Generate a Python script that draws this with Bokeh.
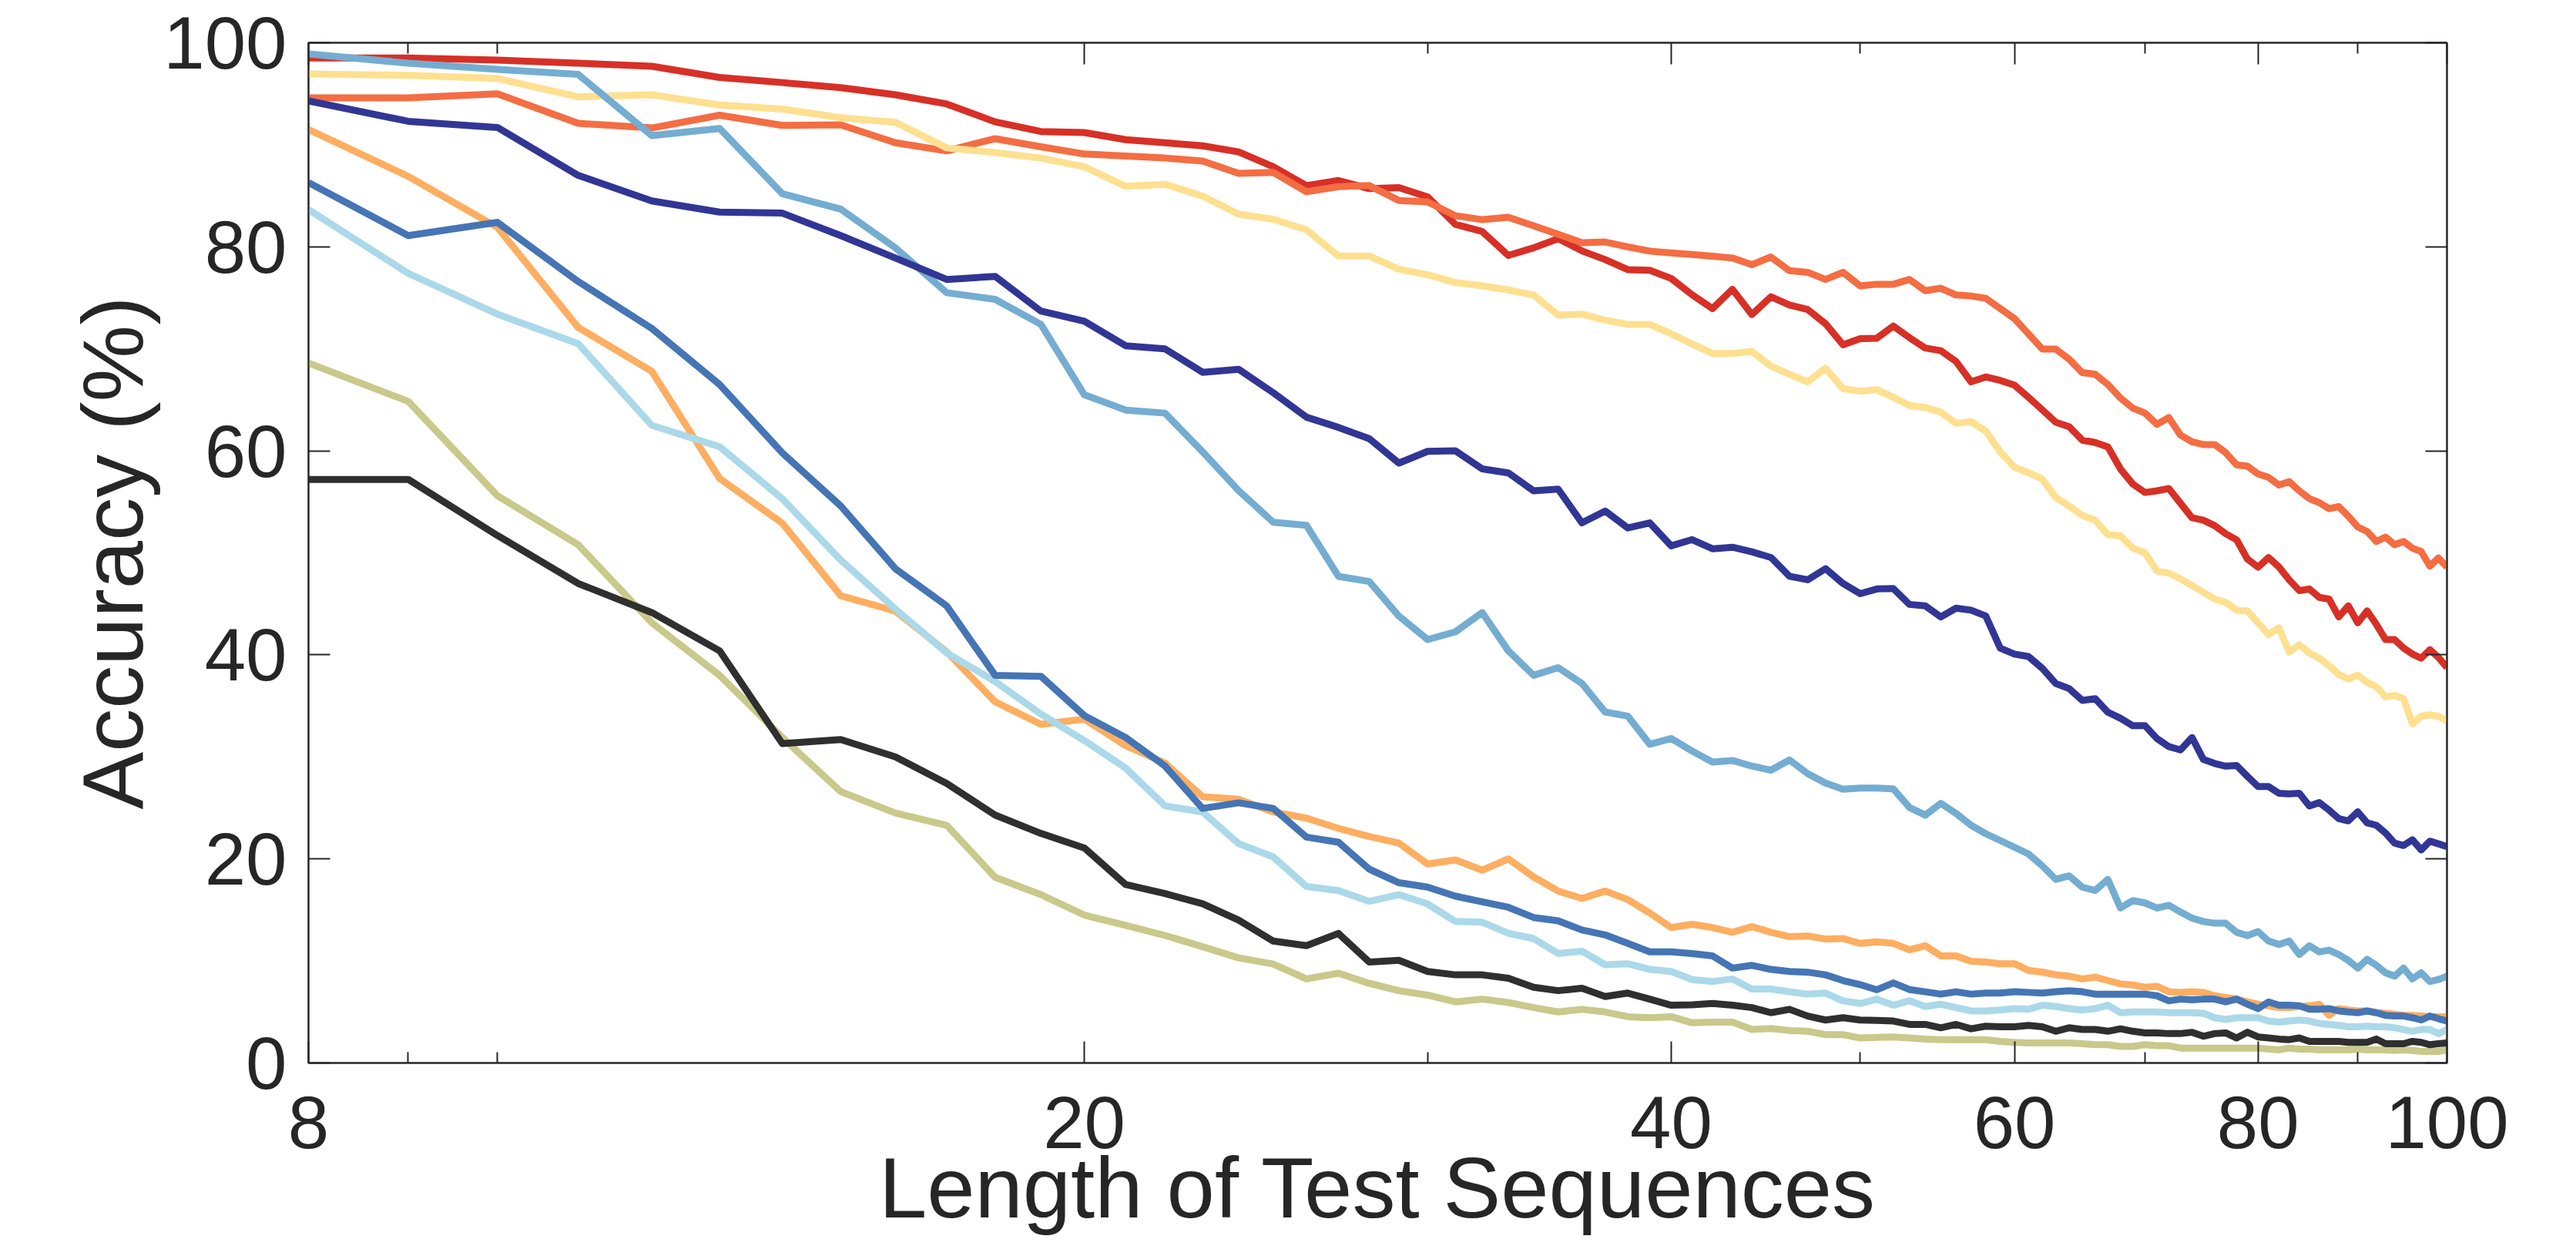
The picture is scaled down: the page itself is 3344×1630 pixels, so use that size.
from bokeh.plotting import figure
from bokeh.models import Range1d, FixedTicker, LogAxis, LinearAxis, PrintfTickFormatter, CustomJSTickFormatter
from bokeh.embed import file_html
from bokeh.resources import INLINE

lengths = list(range(8, 101))

acc_red = [98.5, 98.5, 98.3, 98.0, 97.7, 96.6, 96.1, 95.6, 94.9, 94.0,
           92.25, 91.3, 91.2, 90.5, 90.2, 89.9, 89.3, 87.85, 86.0, 86.5,
           85.7, 85.8, 84.9, 82.2, 81.5, 79.15, 79.9, 80.8, 79.6, 78.75,
           77.76, 77.7, 76.9, 75.3, 73.95, 75.84, 73.36, 75.1, 74.3, 73.85,
           72.46, 70.4, 71.0, 71.04, 72.23, 71.1, 70.08, 69.82, 68.76, 66.77,
           67.24, 66.9, 66.44, 65.25, 64.03, 62.8, 62.37, 61.05, 60.82, 60.39,
           58.23, 56.75, 55.92, 56.08, 56.31, 54.86, 53.44, 53.2, 52.67, 51.88,
           51.28, 49.4, 48.6, 49.54, 48.61, 47.36, 46.3, 46.46, 45.64, 45.47,
           43.72, 44.81, 43.15, 44.31, 42.99, 41.5, 41.5, 40.67, 40.08, 39.68,
           40.51, 39.75, 38.75]

acc_orange_red = [94.6, 94.6, 95.0, 92.1, 91.65, 92.9, 91.9, 91.95, 90.2, 89.4,
                  90.6, 89.8, 89.1, 88.9, 88.7, 88.4, 87.2, 87.3, 85.4, 85.9,
                  86.0, 84.54, 84.4, 83.05, 82.66, 82.9, 82.06, 81.23, 80.4, 80.47,
                  80.0, 79.58, 79.4, 79.25, 79.08, 78.9, 78.25, 79.0, 77.66, 77.5,
                  76.8, 77.5, 76.17, 76.33, 76.33, 76.8, 75.7, 75.94, 75.28, 75.18,
                  74.95, 73.95, 72.96, 71.47, 69.98, 69.98, 68.99, 67.67, 67.5, 66.5,
                  65.18, 64.19, 63.7, 62.6, 63.26, 61.54, 60.88, 60.62, 60.62, 59.82,
                  58.63, 58.5, 57.74, 57.4, 56.65, 56.98, 56.08, 55.32, 54.93, 54.33,
                  54.53, 53.6, 52.54, 52.1, 51.12, 51.55, 50.79, 51.12, 50.46, 50.13,
                  48.7, 49.5, 48.6]

acc_light_orange = [91.5, 86.9, 81.9, 72.1, 67.8, 57.3, 52.9, 45.8, 44.3, 40.3,
                    35.4, 33.2, 33.7, 31.1, 29.4, 26.1, 25.85, 24.6, 24.0, 23.0,
                    22.2, 21.55, 19.5, 19.9, 18.9, 20.0, 18.24, 16.85, 16.12, 16.85,
                    16.02, 14.7, 13.27, 13.6, 13.27, 12.81, 13.37, 12.81, 12.38, 12.45,
                    12.15, 12.2, 11.72, 11.88, 11.72, 11.1, 11.49, 10.49, 10.49, 9.97,
                    9.9, 9.73, 9.73, 9.07, 8.91, 8.64, 8.51, 8.24, 8.41, 8.08,
                    7.75, 7.65, 7.42, 7.52, 6.98, 6.92, 6.98, 6.92, 6.59, 6.42,
                    6.26, 5.99, 5.76, 5.6, 5.43, 5.43, 5.53, 5.6, 5.76, 4.67,
                    5.33, 5.2, 5.1, 5.1, 4.93, 4.87, 4.77, 4.67, 4.67, 4.6,
                    4.54, 4.54, 4.54]

acc_yellow = [96.95, 96.8, 96.5, 94.7, 94.9, 93.9, 93.5, 92.65, 92.2, 89.7,
              89.24, 88.7, 87.85, 85.93, 86.13, 84.97, 83.2, 82.7, 81.66, 79.1,
              79.1, 77.8, 77.26, 76.5, 76.17, 75.77, 75.28, 73.3, 73.4, 72.8,
              72.4, 72.4, 71.47, 70.48, 69.55, 69.55, 69.75, 68.3, 67.5, 66.77,
              68.1, 66.1, 65.85, 66.0, 65.25, 64.45, 64.26, 63.79, 62.7, 62.87,
              61.94, 59.89, 58.4, 57.84, 57.24, 55.42, 54.59, 53.67, 53.2, 51.78,
              51.68, 50.46, 50.0, 48.22, 48.02, 47.46, 46.79, 46.13, 45.47, 45.14,
              44.38, 44.31, 43.15, 41.99, 42.66, 40.28, 41.0, 40.18, 39.68, 38.95,
              38.09, 37.63, 38.02, 37.3, 36.87, 35.87, 36.04, 35.71, 33.23, 33.99,
              34.12, 33.99, 33.56]

acc_light_cyan = [83.65, 77.4, 73.4, 70.5, 62.5, 60.4, 55.3, 49.3, 44.5, 40.2,
                  37.4, 34.2, 31.6, 28.9, 25.2, 24.6, 21.5, 20.2, 17.3, 16.9,
                  15.85, 16.5, 15.59, 13.87, 13.8, 12.71, 12.2, 10.73, 10.96, 9.63,
                  9.73, 9.17, 8.97, 8.18, 7.98, 8.24, 7.25, 7.25, 6.98, 6.75,
                  6.85, 6.09, 5.83, 6.26, 5.66, 6.1, 5.53, 5.76, 5.43, 5.1,
                  5.1, 5.2, 5.33, 5.26, 5.66, 5.53, 5.33, 5.2, 5.33, 5.66,
                  4.93, 5.0, 5.0, 5.0, 4.93, 4.93, 4.93, 4.87, 4.44, 4.27,
                  4.44, 4.44, 4.44, 4.11, 4.01, 4.11, 4.21, 4.11, 3.88, 3.78,
                  3.68, 3.55, 3.55, 3.61, 3.55, 3.55, 3.45, 3.28, 3.11, 3.28,
                  3.28, 2.88, 3.28]

acc_mid_blue = [98.9, 98.0, 97.4, 96.9, 90.9, 91.6, 85.2, 83.7, 79.9, 75.5,
                74.85, 72.4, 65.5, 64.0, 63.7, 59.9, 56.1, 53.0, 52.7, 47.7,
                47.2, 43.8, 41.5, 42.26, 44.15, 40.4, 38.0, 38.75, 37.2, 34.4,
                34.0, 31.24, 31.8, 30.58, 29.5, 29.65, 29.1, 28.7, 29.7, 28.36,
                27.43, 26.84, 26.94, 26.94, 26.87, 25.05, 24.29, 25.45, 24.46, 23.3,
                22.47, 21.81, 21.15, 20.49, 19.33, 18.0, 18.34, 17.24, 16.91, 18.0,
                15.19, 15.92, 15.69, 15.19, 15.46, 14.8, 14.2, 13.87, 13.7, 13.7,
                12.81, 12.48, 12.88, 11.95, 11.62, 11.95, 10.63, 11.49, 10.89, 11.06,
                10.63, 10.06, 9.3, 10.16, 9.57, 8.84, 8.51, 9.3, 8.24, 8.84,
                7.98, 8.18, 8.51]

acc_blue = [86.3, 81.1, 82.4, 76.6, 72.0, 66.5, 59.8, 54.6, 48.45, 44.8,
            38.0, 37.9, 34.05, 31.9, 29.1, 24.95, 25.5, 24.95, 22.14, 21.64,
            19.0, 17.67, 17.24, 16.35, 15.79, 15.26, 14.26, 13.93, 13.04, 12.55,
            11.72, 10.89, 10.89, 10.73, 10.5, 9.3, 9.57, 9.17, 8.97, 8.9,
            8.64, 8.08, 7.68, 7.18, 7.85, 7.2, 6.98, 6.75, 6.98, 6.75,
            6.85, 6.85, 6.98, 6.92, 6.85, 6.98, 7.08, 6.98, 6.75, 6.75,
            6.75, 6.75, 6.75, 6.59, 6.09, 6.26, 6.19, 6.26, 6.26, 5.99,
            6.26, 5.76, 5.33, 5.99, 5.66, 5.66, 5.6, 5.26, 5.26, 5.33,
            5.1, 5.0, 4.93, 5.1, 4.93, 4.67, 4.6, 4.6, 4.44, 4.21,
            4.6, 4.34, 4.11]

acc_dark_blue = [94.3, 92.3, 91.7, 87.0, 84.5, 83.4, 83.3, 81.1, 78.9, 76.8,
                 77.1, 73.7, 72.7, 70.3, 70.0, 67.7, 68.0, 65.7, 63.3, 62.3,
                 61.2, 58.8, 59.95, 60.0, 58.23, 57.84, 56.08, 56.25, 52.94, 54.1,
                 52.44, 52.94, 50.69, 51.3, 50.4, 50.55, 50.1, 49.55, 47.7, 47.36,
                 48.45, 47.0, 46.0, 46.46, 46.5, 44.95, 44.81, 43.72, 44.58, 44.38,
                 43.82, 40.67, 40.08, 39.84, 38.69, 37.2, 36.7, 35.54, 35.71, 34.38,
                 33.79, 33.06, 33.06, 31.8, 31.01, 30.68, 31.9, 29.75, 29.36, 29.09,
                 29.16, 28.1, 27.1, 27.1, 26.44, 26.38, 26.44, 25.19, 25.52, 24.79,
                 23.96, 23.73, 24.62, 23.53, 23.3, 22.54, 21.55, 21.31, 21.88, 20.88,
                 21.74, 21.48, 21.21]

acc_olive = [68.6, 64.85, 55.6, 50.8, 43.15, 38.0, 31.9, 26.6, 24.5, 23.3,
             18.2, 16.5, 14.5, 13.5, 12.5, 11.4, 10.3, 9.7, 8.24, 8.8,
             7.8, 7.09, 6.65, 5.99, 6.26, 5.93, 5.43, 5.0, 5.26, 5.0,
             4.54, 4.44, 4.54, 3.94, 4.01, 4.01, 3.28, 3.38, 3.18, 3.11,
             2.78, 2.78, 2.45, 2.52, 2.55, 2.45, 2.35, 2.29, 2.29, 2.29,
             2.29, 2.12, 2.02, 1.96, 1.96, 1.96, 1.96, 1.89, 1.79, 1.79,
             1.63, 1.63, 1.79, 1.69, 1.69, 1.46, 1.46, 1.46, 1.46, 1.46,
             1.46, 1.46, 1.46, 1.36, 1.29, 1.46, 1.36, 1.36, 1.29, 1.29,
             1.29, 1.29, 1.36, 1.29, 1.29, 1.29, 1.23, 1.29, 1.23, 1.13,
             1.13, 1.13, 1.29]

acc_black = [57.2, 57.2, 51.7, 47.0, 44.15, 40.4, 31.3, 31.7, 30.0, 27.4,
             24.3, 22.5, 21.08, 17.5, 16.6, 15.6, 14.0, 11.95, 11.5, 12.7,
             9.9, 10.06, 8.97, 8.64, 8.64, 8.31, 7.42, 7.09, 7.32, 6.52,
             6.85, 6.26, 5.66, 5.7, 5.83, 5.66, 5.43, 4.93, 5.26, 4.6,
             4.21, 4.44, 4.21, 4.17, 4.11, 3.78, 3.78, 3.45, 3.78, 3.35,
             3.61, 3.55, 3.55, 3.68, 3.55, 3.11, 3.45, 3.28, 3.28, 3.11,
             3.35, 3.11, 2.95, 2.95, 2.88, 2.88, 3.01, 2.62, 2.88, 2.95,
             2.45, 3.01, 2.55, 2.45, 2.35, 2.29, 2.45, 2.12, 2.12, 2.12,
             2.12, 2.02, 2.02, 2.02, 2.35, 1.89, 1.89, 1.89, 2.12, 2.02,
             1.79, 1.89, 1.96]

series = [
    (acc_red, "#d73027"),
    (acc_orange_red, "#f46d43"),
    (acc_light_orange, "#fdae61"),
    (acc_yellow, "#fee090"),
    (acc_light_cyan, "#abd9e9"),
    (acc_mid_blue, "#74add1"),
    (acc_blue, "#4575b4"),
    (acc_dark_blue, "#313695"),
    (acc_olive, "#c8c98a"),
    (acc_black, "#2f2f2f"),
]

x_ticks = [8, 20, 40, 60, 80, 100]
x_minor = [9, 10, 30, 50, 70, 90]
y_ticks = [0, 20, 40, 60, 80, 100]

TXT = "#262626"
FONT = "Liberation Sans"

p = figure(width=3328, height=1614, x_axis_type="log",
           x_range=Range1d(8, 100), y_range=Range1d(0, 100),
           output_backend="svg", toolbar_location=None,
           min_border_left=400, min_border_right=152,
           min_border_top=55, min_border_bottom=235,
           background_fill_color="white", border_fill_color="white")

p.xgrid.visible = False
p.ygrid.visible = False
p.outline_line_color = TXT
p.outline_line_width = 2

for vals, col in series:
    assert len(vals) == len(lengths)
    p.line(lengths, vals, line_color=col, line_width=9, line_join="round")

xa = p.xaxis[0]
xa.ticker = FixedTicker(ticks=x_ticks, minor_ticks=x_minor)
xa.formatter = PrintfTickFormatter(format="%d")
xa.axis_label = "Length of Test Sequences"
ya = p.yaxis[0]
ya.ticker = FixedTicker(ticks=y_ticks)
ya.axis_label = "Accuracy (%)"

for ax in (xa, ya):
    ax.axis_line_color = TXT
    ax.axis_line_width = 2
    ax.major_tick_line_color = TXT
    ax.major_tick_line_width = 2
    ax.minor_tick_line_color = TXT
    ax.minor_tick_line_width = 2
    ax.major_tick_in = 28
    ax.major_tick_out = 0
    ax.minor_tick_in = 14
    ax.minor_tick_out = 0
    ax.major_label_text_font = FONT
    ax.major_label_text_font_size = "96px"
    ax.major_label_text_color = TXT
    ax.axis_label_text_font = FONT
    ax.axis_label_text_font_size = "112px"
    ax.axis_label_text_font_style = "normal"
    ax.axis_label_text_color = TXT
ya.minor_tick_line_color = None
xa.major_label_standoff = 43
xa.axis_label_standoff = -14
ya.major_label_standoff = 28
ya.axis_label_standoff = 0

blank = CustomJSTickFormatter(code="return '';")
top = LogAxis(ticker=FixedTicker(ticks=x_ticks, minor_ticks=x_minor), formatter=blank)
right = LinearAxis(ticker=FixedTicker(ticks=y_ticks), formatter=blank)
for ax in (top, right):
    ax.axis_line_color = TXT
    ax.axis_line_width = 2
    ax.major_tick_line_color = TXT
    ax.major_tick_line_width = 2
    ax.minor_tick_line_color = TXT
    ax.minor_tick_line_width = 2
    ax.major_tick_in = 28
    ax.major_tick_out = 0
    ax.minor_tick_in = 14
    ax.minor_tick_out = 0
    ax.major_label_text_font_size = "1px"
    ax.major_label_standoff = 0
right.minor_tick_line_color = None
p.add_layout(top, "above")
p.add_layout(right, "right")

open("out.html", "w").write(file_html(p, INLINE))
